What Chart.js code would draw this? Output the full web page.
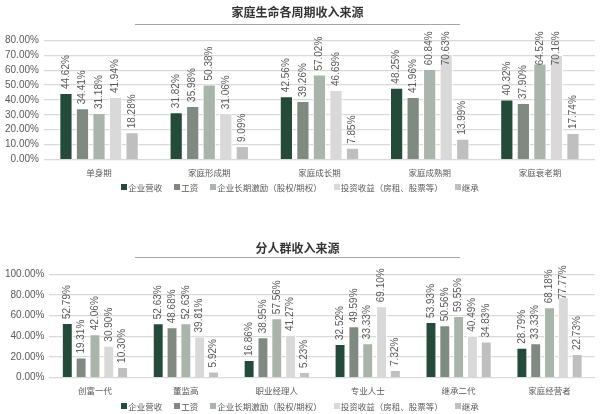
<!DOCTYPE html>
<html>
<head>
<meta charset="utf-8">
<script src="https://cdn.jsdelivr.net/npm/chart.js@4.4.1/dist/chart.umd.min.js"></script>
<style>
  html, body { margin: 0; padding: 0; background: #ffffff; overflow: hidden; }
  #page { position: relative; width: 600px; height: 414px; overflow: hidden; }
  .box { position: absolute; left: 0; width: 600px; }
  #lifeBox { top: 0; height: 188px; }
  #groupBox { top: 202px; height: 204px; }
  .legend {
    position: absolute; left: 0; width: 600px; height: 10px;
    display: flex; justify-content: center; align-items: center;
    font: 8.5px "Liberation Sans", "Noto Sans CJK SC", sans-serif; color: #595959;
  }
  .legend span.item { display: flex; align-items: center; margin: 0 6px; white-space: nowrap; }
  .legend i { display: inline-block; width: 6px; height: 6px; margin-right: 1px; }
  #lifeLegend { top: 182px; }
  #groupLegend { top: 401px; }
</style>
</head>
<body>
<div id="page">
  <div class="box" id="lifeBox"><canvas id="lifeChart"></canvas></div>
  <div class="legend" id="lifeLegend"></div>
  <div class="box" id="groupBox"><canvas id="groupChart"></canvas></div>
  <div class="legend" id="groupLegend"></div>
</div>
<script>
// Series names and colours shared by both charts
const seriesNames = ['企业营收', '工资', '企业长期激励（股权/期权）', '投资收益（房租、股票等）', '继承'];
const seriesColors = ['#244b39', '#7f8b81', '#a9b5aa', '#d9d9d9', '#bfbfbf'];

// Chart 1: family life cycle
const lifeCategories = ['单身期', '家庭形成期', '家庭成长期', '家庭成熟期', '家庭衰老期'];
const lifeRevenue = [44.62, 31.82, 42.56, 48.25, 40.32];
const lifeSalary = [34.41, 35.98, 39.26, 41.96, 37.90];
const lifeIncentive = [31.18, 50.38, 57.02, 60.84, 64.52];
const lifeInvest = [41.94, 31.06, 46.69, 70.63, 70.16];
const lifeInherit = [18.28, 9.09, 7.85, 13.99, 17.74];
const lifeTicks = [0, 10, 20, 30, 40, 50, 60, 70, 80];

// Chart 2: by group of people
const groupCategories = ['创富一代', '董监高', '职业经理人', '专业人士', '继承二代', '家庭经营者'];
const groupRevenue = [52.79, 52.63, 16.86, 32.52, 53.93, 28.79];
const groupSalary = [19.31, 48.68, 38.95, 49.59, 50.56, 33.33];
const groupIncentive = [42.06, 52.63, 57.56, 33.33, 59.55, 68.18];
const groupInvest = [30.90, 39.81, 41.27, 69.10, 40.49, 77.77];
const groupInherit = [10.30, 5.92, 5.23, 7.32, 34.83, 22.73];
const groupTicks = [0, 20, 40, 60, 80, 100];

const FONT = '"Liberation Sans", "Noto Sans CJK SC", sans-serif';
const TEXT = '#595959';

// vertical value labels above each bar, kept inside the top of the plot
const barLabels = {
  id: 'barLabels',
  afterDatasetsDraw(chart) {
    const ctx = chart.ctx;
    const limit = chart.chartArea.top - 9;
    ctx.save();
    ctx.font = '10px ' + FONT;
    ctx.fillStyle = TEXT;
    ctx.textAlign = 'left';
    ctx.textBaseline = 'middle';
    chart.data.datasets.forEach((ds, i) => {
      chart.getDatasetMeta(i).data.forEach((bar, j) => {
        const txt = ds.data[j].toFixed(2) + '%';
        const w = ctx.measureText(txt).width;
        let start = bar.y - 4;
        if (start - w < limit) start = limit + w;
        ctx.save();
        ctx.translate(bar.x, start);
        ctx.rotate(-Math.PI / 2);
        ctx.fillText(txt, 0, 0);
        ctx.restore();
      });
    });
    ctx.restore();
  }
};

// thin rule under the title
const titleRule = {
  id: 'titleRule',
  afterDraw(chart, args, opts) {
    const ctx = chart.ctx;
    const y = Math.round(opts.y) + 0.5;
    ctx.save();
    ctx.strokeStyle = '#a6a6a6';
    ctx.lineWidth = 1;
    ctx.beginPath();
    ctx.moveTo(135, y);
    ctx.lineTo(460, y);
    ctx.stroke();
    ctx.restore();
  }
};

// legend as plain html under each chart
function buildLegend(id) {
  const el = document.getElementById(id);
  seriesNames.forEach((name, i) => {
    const item = document.createElement('span');
    item.className = 'item';
    const sw = document.createElement('i');
    sw.style.background = seriesColors[i];
    item.appendChild(sw);
    item.appendChild(document.createTextNode(name));
    el.appendChild(item);
  });
}

function makeChart(id, title, categories, series, ticks, opt) {
  new Chart(document.getElementById(id), {
    type: 'bar',
    data: {
      labels: categories,
      datasets: series.map((values, i) => ({
        label: seriesNames[i],
        data: values,
        backgroundColor: seriesColors[i],
        borderColor: '#ffffff',
        borderWidth: 1,
        categoryPercentage: opt.catPct,
        barPercentage: opt.barPct
      }))
    },
    options: {
      responsive: true,
      maintainAspectRatio: false,
      animation: false,
      layout: { padding: { left: 0, right: 5, bottom: 0 } },
      plugins: {
        title: {
          display: true,
          text: title,
          color: '#333333',
          font: { family: FONT, size: 12, weight: 'bold' },
          padding: { top: opt.titleTop, bottom: opt.titleBottom }
        },
        titleRule: { y: opt.ruleY },
        legend: { display: false },
        tooltip: { enabled: false }
      },
      scales: {
        x: {
          grid: { display: false, drawTicks: false },
          border: { display: false },
          ticks: { color: TEXT, font: { family: FONT, size: 8.5, lineHeight: 1 }, padding: 10 }
        },
        y: {
          min: 0,
          max: ticks[ticks.length - 1],
          afterBuildTicks(axis) { axis.ticks = ticks.map(v => ({ value: v })); },
          grid: { color: '#d9d9d9', lineWidth: 1.2, drawTicks: false },
          border: { display: false },
          ticks: {
            color: TEXT,
            font: { family: FONT, size: 10 },
            padding: 5,
            autoSkip: false,
            callback: v => v.toFixed(2) + '%'
          }
        }
      }
    },
    plugins: [barLabels, titleRule]
  });
}

makeChart('lifeChart', '家庭生命各周期收入来源', lifeCategories,
  [lifeRevenue, lifeSalary, lifeIncentive, lifeInvest, lifeInherit], lifeTicks,
  { titleTop: 6, titleBottom: 20, ruleY: 24, catPct: 0.75, barPct: 0.8 });
makeChart('groupChart', '分人群收入来源', groupCategories,
  [groupRevenue, groupSalary, groupIncentive, groupInvest, groupInherit], groupTicks,
  { titleTop: 40, titleBottom: 18, ruleY: 55, catPct: 0.76, barPct: 0.79 });
buildLegend('lifeLegend');
buildLegend('groupLegend');
</script>
</body>
</html>
